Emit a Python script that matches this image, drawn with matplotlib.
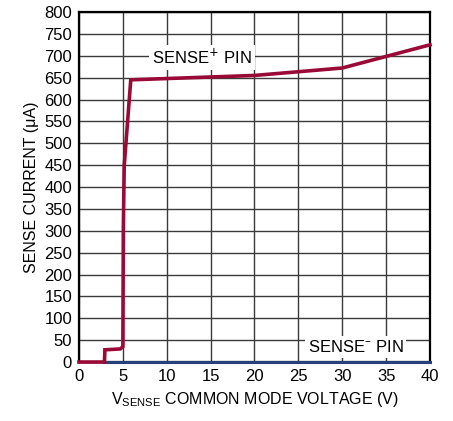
import matplotlib
matplotlib.use("Agg")
import matplotlib.pyplot as plt
from matplotlib import font_manager

names = {f.name for f in font_manager.fontManager.ttflist}
fam = ['Liberation Sans Narrow', 'DejaVu Sans'] if 'Liberation Sans Narrow' in names else ['Liberation Sans', 'DejaVu Sans']
plt.rcParams['font.family'] = fam

# data
plus_v = [0, 2.9, 2.95, 4.7, 5.0, 5.05, 5.15, 5.9, 20, 30, 40]
plus_i = [0, 0, 28, 30, 35, 300, 448, 645, 655, 672, 725]
minus_v = [2.9, 40]
minus_i = [0, 0]
x_ticks = [0, 5, 10, 15, 20, 25, 30, 35, 40]
y_ticks = list(range(0, 801, 50))

fig = plt.figure(figsize=(4.53, 4.21), dpi=100)
ax = fig.add_axes([0.1744, 0.140, 0.7748, 0.8315])
ax.set_xlim(0, 40)
ax.set_ylim(0, 800)
ax.set_xticks(x_ticks)
ax.set_yticks(y_ticks)
ax.grid(True, color='#3a3a3a', linewidth=1.0)
ax.set_axisbelow(True)
ax.tick_params(length=0, labelsize=12, pad=5)
for s in ax.spines.values():
    s.set_linewidth(1.6)
    s.set_color('black')

ax.plot(minus_v, minus_i, color='#27407a', linewidth=2.2, clip_on=False, zorder=3)
ax.plot(plus_v, plus_i, color='#9a0a36', linewidth=2.6, solid_joinstyle='miter', clip_on=False, zorder=4)

bbox = dict(facecolor='white', edgecolor='none', pad=2)
ax.text(14, 697, 'SENSE$^{+}$ PIN', fontsize=12, ha='center', va='center', bbox=bbox, zorder=5)
ax.text(31.5, 34, 'SENSE$^{\u2013}$ PIN', fontsize=12, ha='center', va='center', bbox=bbox, zorder=5)

ax.set_xlabel(r'$\mathregular{V_{SENSE}}$ COMMON MODE VOLTAGE (V)', fontsize=11.5, labelpad=4)
ax.set_ylabel('SENSE CURRENT (\u03bcA)', fontsize=11.5, labelpad=4)

fig.savefig('out.png', dpi=100)
